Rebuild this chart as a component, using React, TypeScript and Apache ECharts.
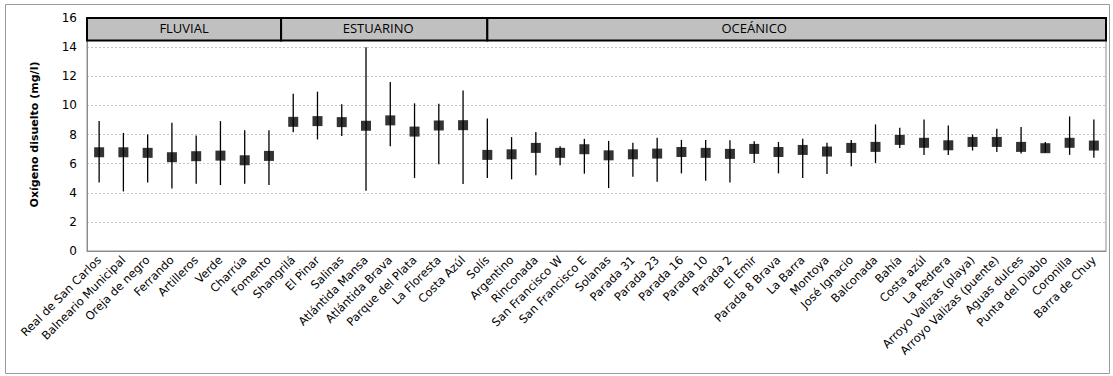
import React, { useEffect, useRef } from "react";
import * as echarts from "echarts";

const categories = [
  "Real de San Carlos", "Balneario Municipal", "Oreja de negro", "Ferrando", "Artilleros", "Verde", "Charrúa", "Fomento",
  "Shangrilá", "El Pinar", "Salinas", "Atlántida Mansa", "Atlántida Brava", "Parque del Plata", "La Floresta", "Costa Azúl",
  "Solís", "Argentino", "Rinconada", "San Francisco W", "San Francisco E", "Solanas", "Parada 31", "Parada 23", "Parada 16",
  "Parada 10", "Parada 2", "El Emir", "Parada 8 Brava", "La Barra", "Montoya", "José Ignacio", "Balconada", "Bahía",
  "Costa azúl", "La Pedrera", "Arroyo Valizas (playa)", "Arroyo Valizas (puente)", "Aguas dulces", "Punta del Diablo",
  "Coronilla", "Barra de Chuy",
];

const meanValues = [
  6.78, 6.78, 6.74, 6.44, 6.51, 6.55, 6.23, 6.53,
  8.87, 8.92, 8.85, 8.6, 8.97, 8.2, 8.62, 8.64,
  6.6, 6.64, 7.08, 6.74, 6.99, 6.57, 6.64, 6.69, 6.8,
  6.74, 6.67, 7.01, 6.8, 6.94, 6.83, 7.08, 7.15, 7.63,
  7.43, 7.26, 7.49, 7.49, 7.15, 7.06, 7.43, 7.24,
];

const maxValues = [
  8.92, 8.11, 8.0, 8.8, 7.93, 8.92, 8.3, 8.3,
  10.8, 10.94, 10.07, 14.0, 11.6, 10.14, 10.12, 11.03,
  9.1, 7.82, 8.18, 7.2, 7.7, 7.56, 7.43, 7.77, 7.63,
  7.63, 7.61, 7.54, 7.49, 7.7, 7.43, 7.63, 8.69, 8.46,
  9.03, 8.62, 8.0, 8.39, 8.51, 7.49, 9.24, 9.03,
];

const minValues = [
  4.71, 4.09, 4.71, 4.3, 4.62, 4.53, 4.62, 4.53,
  8.16, 7.66, 7.89, 4.14, 7.2, 5.01, 5.95, 4.6,
  5.01, 4.92, 5.2, 5.89, 5.31, 4.32, 5.1, 4.76, 5.33,
  4.83, 4.71, 6.05, 5.33, 5.01, 5.29, 5.82, 6.05, 7.08,
  6.6, 6.6, 6.9, 6.8, 6.69, 6.74, 6.6, 6.41,
];

// zones: [start position, end position, label center position, name]
const zoneNames = ["FLUVIAL", "ESTUARINO", "OCEÁNICO"];
const zoneStarts = [0, 8, 16.5];
const zoneEnds = [8, 16.5, 42];
const zoneLabelCenters = [4, 12.0, 27.5];

const yTicks = [0, 2, 4, 6, 8, 10, 12, 14, 16];

export default function App() {
  const ref = useRef<HTMLDivElement>(null);

  useEffect(() => {
    if (!ref.current) return;
    const chart = echarts.init(ref.current, undefined, { renderer: "svg" });
    const yMax = yTicks[yTicks.length - 1];
    const headerBottom = 14.45;
    const font = "'DejaVu Sans', sans-serif";

    const option: any = {
      animation: false,
      backgroundColor: "#ffffff",
      grid: { left: 87, right: 7, top: 18, bottom: 125, show: true, borderColor: "#8c8c8c", borderWidth: 1 },
      graphic: [
        {
          type: "rect",
          shape: { x: 5.5, y: 4.5, width: 1104, height: 369 },
          style: { fill: "none", stroke: "#9a9a9a", lineWidth: 1 },
          silent: true,
          z: -10,
        },
      ],
      xAxis: [
        {
          type: "category",
          data: categories,
          axisLine: { show: true, lineStyle: { color: "#8c8c8c" } },
          axisTick: { show: false },
          axisLabel: {
            rotate: 45,
            interval: 0,
            margin: 7,
            fontFamily: font,
            fontSize: 11.5,
            color: "#000",
          },
          splitLine: { show: false },
        },
        {
          type: "value",
          min: 0,
          max: categories.length,
          show: false,
        },
      ],
      yAxis: {
        type: "value",
        min: yTicks[0],
        max: yMax,
        interval: 2,
        name: "Oxígeno disuelto (mg/l)",
        nameLocation: "middle",
        nameGap: 47,
        nameTextStyle: {
          fontFamily: font,
          fontSize: 11,
          fontWeight: "bold",
          color: "#000",
        },
        axisLine: { show: true, lineStyle: { color: "#8c8c8c" } },
        axisTick: { show: false },
        axisLabel: {
          margin: 10,
          fontFamily: font,
          fontSize: 12,
          color: "#000",
        },
        splitLine: { show: true, lineStyle: { color: "#c4c4c4", type: [2, 2], width: 1 } },
      },
      series: [
        {
          type: "custom",
          name: "range",
          xAxisIndex: 0,
          data: categories.map((_, i) => [i, minValues[i], maxValues[i]]),
          encode: { x: 0, y: [1, 2] },
          renderItem: (params: any, api: any) => {
            const x = api.value(0);
            const lo = api.coord([x, api.value(1)]);
            const hi = api.coord([x, api.value(2)]);
            return {
              type: "line",
              shape: { x1: lo[0], y1: lo[1], x2: hi[0], y2: hi[1] },
              style: { stroke: "#000", lineWidth: 1.3 },
            };
          },
          z: 3,
        },
        {
          type: "scatter",
          name: "media",
          xAxisIndex: 0,
          data: meanValues,
          symbol: "rect",
          symbolSize: 10,
          itemStyle: { color: "#000" },
          z: 4,
        },
        {
          type: "custom",
          name: "zonas",
          xAxisIndex: 1,
          data: zoneNames.map((n, i) => [zoneStarts[i], zoneEnds[i], zoneLabelCenters[i], n]),
          encode: { x: [0, 1], y: [] },
          renderItem: (params: any, api: any) => {
            const s = api.value(0);
            const e = api.value(1);
            const c = api.value(2);
            const name = zoneNames[params.dataIndex];
            const p1 = api.coord([s, yMax]);
            const p2 = api.coord([e, headerBottom]);
            const pc = api.coord([c, (yMax + headerBottom) / 2]);
            return {
              type: "group",
              children: [
                {
                  type: "rect",
                  shape: { x: p1[0], y: p1[1], width: p2[0] - p1[0], height: p2[1] - p1[1] },
                  style: { fill: "#c0c0c0", stroke: "#000", lineWidth: 2 },
                },
                {
                  type: "text",
                  x: pc[0],
                  y: pc[1] - 1,
                  style: {
                    text: name,
                    fill: "#000",
                    font: "13px 'Open Sans', sans-serif",
                    align: "center",
                    verticalAlign: "middle",
                  },
                },
              ],
            };
          },
          z: 5,
        },
      ],
    };
    chart.setOption(option);
    return () => chart.dispose();
  }, []);

  return (
    <div
      ref={ref}
      style={{ position: "fixed", left: 0, top: 0, width: 1113, height: 376, background: "#fff" }}
    />
  );
}
